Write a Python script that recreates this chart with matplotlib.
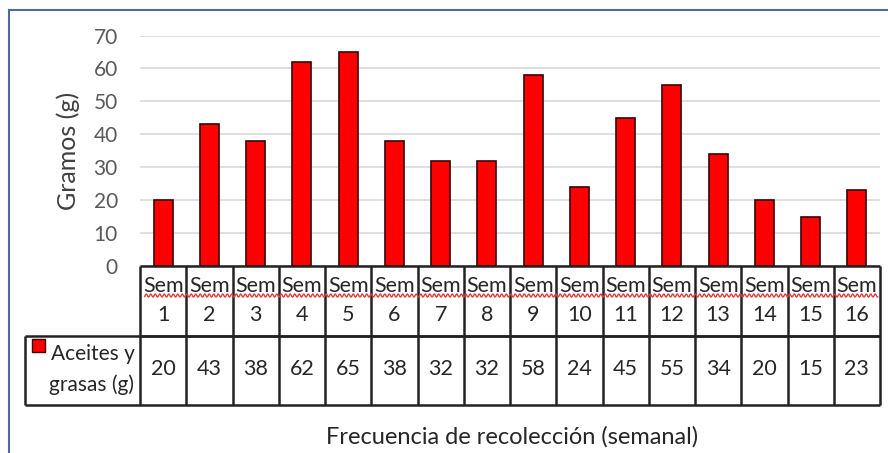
import numpy as np
import matplotlib.pyplot as plt
from matplotlib.patches import Rectangle
from matplotlib.lines import Line2D

# datos
semanas = [str(i) for i in range(1, 17)]
valores = [20, 43, 38, 62, 65, 38, 32, 32, 58, 24, 45, 55, 34, 20, 15, 23]
serie = ["Aceites y", "grasas (g)"]

plt.rcParams['font.family'] = ['Lato', 'DejaVu Sans']

W, H = 888, 453
fig = plt.figure(figsize=(W / 100, H / 100), dpi=100)

# marco exterior (arriba e izquierda)
fig.add_artist(Line2D([9 / W, 9 / W], [0, 1 - 10 / H], color="#4f6b9e", lw=1.5))
fig.add_artist(Line2D([9 / W, 1], [1 - 10 / H, 1 - 10 / H], color="#4f6b9e", lw=1.5))

x0, x1 = 140, 880
y0, y70 = 266, 35.5
n = len(valores)
ax = fig.add_axes([x0 / W, 1 - y0 / H, (x1 - x0) / W, (y0 - y70) / H])

ax.bar(range(n), valores, width=0.41, color="#ff0000",
       edgecolor="#3a0000", linewidth=1.2, zorder=3)
ax.set_xlim(-0.5, n - 0.5)
ax.set_ylim(0, 70)
ax.set_yticks(range(0, 71, 10))
ax.yaxis.grid(True, color="#d9d9d9", lw=1.2, zorder=0)
ax.set_xticks([])
ax.tick_params(axis="y", length=0, pad=16, labelsize=15, labelcolor="#595959")
for s in ax.spines.values():
    s.set_visible(False)
ax.set_ylabel("Gramos (g)", fontsize=18, color="#404040", labelpad=10)

# tabla de datos (unidades de columna)
col_w = (x1 - x0) / n
lab_w = (x0 - 25) / col_w
tab = fig.add_axes([25 / W, 1 - 405 / H, (x1 - 25) / W, (405 - y0) / H])
tab.set_xlim(-0.5 - lab_w, n - 0.5)
tab.set_ylim(0, 2)
tab.axis("off")
lc = "#222222"
tab.hlines([1, 2], -0.5, n - 0.5, color=lc, lw=1.8, clip_on=False)
tab.hlines([0, 1], -0.5 - lab_w, n - 0.5, color=lc, lw=1.8, clip_on=False)
tab.vlines(np.arange(n + 1) - 0.5, 0, 2, color=lc, lw=1.8, clip_on=False)
tab.vlines([-0.5 - lab_w], 0, 1, color=lc, lw=1.8, clip_on=False)
for i in range(n):
    tab.text(i, 1.71, "Sem", ha="center", va="center", fontsize=15.5, color="#262626")
    tab.text(i, 1.29, semanas[i], ha="center", va="center", fontsize=15.5, color="#262626")
    tab.text(i, 0.52, str(valores[i]), ha="center", va="center", fontsize=15.5, color="#262626")
# subrayado ondulado del corrector
xs = np.linspace(-0.4, n - 0.55, 1500)
tab.plot(xs, 1.575 + 0.022 * np.sin(xs * 2 * np.pi * col_w / 4.5), color="#e03c3c", lw=1.0)

tab.text(-0.62, 0.74, serie[0], ha="right", va="center", fontsize=15, color="#262626")
tab.text(-0.62, 0.29, serie[1], ha="right", va="center", fontsize=15, color="#262626")

# cuadro de leyenda
fig.add_artist(Rectangle((32 / W, 1 - 352 / H), 13 / W, 13 / H,
                         facecolor="#ff0000", edgecolor="#3a0000", lw=1))

fig.text(512 / W, 1 - 437 / H, "Frecuencia de recolección (semanal)",
         ha="center", va="center", fontsize=17, color="#262626")

fig.savefig("out.png", dpi=100)
